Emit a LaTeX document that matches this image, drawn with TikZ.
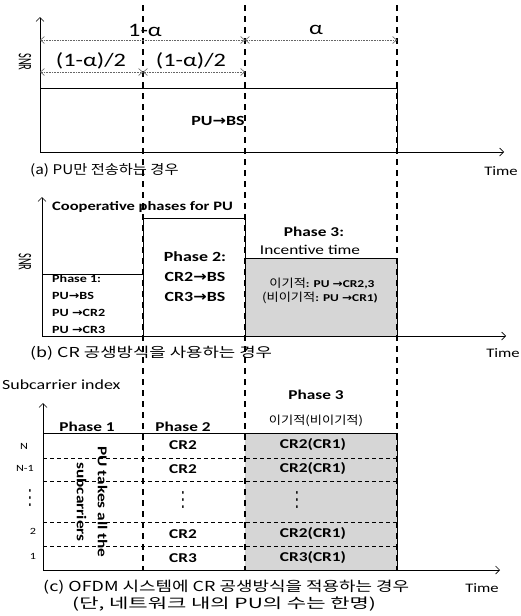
\documentclass[tikz,border=0pt]{standalone}
\usepackage{fontspec}
\usepackage{graphicx}
\setmainfont{Carlito}[FakeStretch=1.28]
\newfontfamily\kr{Noto Sans CJK KR}[FakeStretch=1.15]
\newfontfamily\krmid{Noto Sans CJK KR}[FakeStretch=1.3]
\newfontfamily\krwide{Noto Sans CJK KR}[FakeStretch=1.5]
\newfontfamily\dv{DejaVu Sans}[FakeStretch=1.15]
\newfontfamily\snrf{Carlito}[FakeStretch=0.55]
\usetikzlibrary{arrows.meta}
\newcommand{\myarr}{{\dv\bfseries →}}
\newcommand{\fsz}[1]{\fontsize{#1}{#1}\selectfont}
\newcommand{\myvdots}{\scalebox{0.8}[1.3]{\dv\mdseries\fsz{16}⋮}}
\begin{document}
\begin{tikzpicture}[x=1pt,y=-1pt,
  every node/.style={inner sep=0pt},
  axis/.style={line width=0.9pt,-{Straight Barb[length=4pt,width=8pt,line width=0.7pt]}},
  dimarrow/.style={draw=black!60,line width=0.6pt,densely dotted,{Straight Barb[length=4pt,width=7pt,line width=0.6pt]}-{Straight Barb[length=4pt,width=7pt,line width=0.6pt]}},
  guide/.style={line width=1.2pt,dash pattern=on 6pt off 5pt},
  frame/.style={line width=0.9pt},
  rowsep/.style={line width=0.7pt,dash pattern=on 4pt off 3pt},
  shaded/.style={fill=black!16},
  dimlbl/.style={font=\fsz{19}},
  pubs/.style={font=\bfseries\fsz{14}},
  coop/.style={font=\bfseries\fsz{12.9},anchor=west},
  phonetxt/.style={font=\bfseries\fsz{11},anchor=west},
  phtwotxt/.style={font=\bfseries\fsz{14}},
  phthreehead/.style={font=\bfseries\fsz{13.5}},
  inctxt/.style={font=\fsz{13.5}},
  krbox/.style={font=\kr\fsz{11.5}},
  celltxt/.style={font=\bfseries\fsz{13.5}},
  timelbl/.style={font=\fsz{13}},
  snrlbl/.style={font=\snrf\fsz{19},rotate=-90},
  captxt/.style={anchor=west},
  rowlbl/.style={font=\fsz{9.5}},
  sublbl/.style={font=\fsz{14},anchor=west},
  rottxt/.style={font=\bfseries\fontsize{13.5}{21}\selectfont,rotate=-90,align=center}
]
\useasboundingbox (0,0) rectangle (521,616);

% ---------- shaded areas ----------
\coordinate (p3a) at (245,258); \coordinate (p3b) at (397,336);
\fill[shaded] (p3a) rectangle (p3b);
\coordinate (c3a) at (245,433); \coordinate (c3b) at (397,570);
\fill[shaded] (c3a) rectangle (c3b);

% ---------- panel (c) row separators ----------
\foreach \yy/\nm in {458/r1,481/r2,522/r3,546/r4}{
  \coordinate (\nm l) at (43,\yy); \coordinate (\nm r) at (397,\yy);
  \draw[rowsep] (\nm l) -- (\nm r);
}

% ---------- vertical guides ----------
\coordinate (gAt) at (143,5); \coordinate (gAb) at (143,570);
\coordinate (gBt) at (245,5); \coordinate (gBb) at (245,570);
\coordinate (gCt) at (397,5); \coordinate (gCb) at (397,570);
\draw[guide] (gAt) -- (gAb);
\draw[guide] (gBt) -- (gBb);
\draw[guide] (gCt) -- (gCb);

% ---------- panel (a) ----------
\coordinate (aO) at (40,152); \coordinate (aY) at (40,17); \coordinate (aX) at (504,152);
\draw[axis] (aO) -- (aY);
\draw[axis] (aO) -- (aX);
\coordinate (aTL) at (40,88); \coordinate (aTR) at (397,88); \coordinate (aBR) at (397,152);
\draw[frame] (aTL) -- (aTR) -- (aBR);
\coordinate (d1) at (40,40); \coordinate (d2) at (245,40); \coordinate (d3) at (397,40);
\draw[dimarrow] (d1) -- (d2);
\draw[dimarrow] (d2) -- (d3);
\coordinate (e1) at (40,72); \coordinate (e2) at (143,72); \coordinate (e3) at (245,72);
\draw[dimarrow] (e1) -- (e2);
\draw[dimarrow] (e2) -- (e3);
\node[dimlbl] (lOneA) at (145,30) {1-α};
\node[dimlbl] (lA) at (316,30) {α};
\node[dimlbl] (lHalfA) at (91,61) {(1-α)/2};
\node[dimlbl] (lHalfB) at (191,61) {(1-α)/2};
\node[snrlbl] (snrA) at (25,62) {SNR};
\node[pubs] (pubsA) at (218,121) {PU\myarr BS};
\node[timelbl] (timeA) at (501,171) {Time};
\node[captxt,font=\kr\fsz{13.3}] (capA) at (30,170) {(a) PU만 전송하는 경우};

% ---------- panel (b) ----------
\coordinate (bO) at (42,336); \coordinate (bY) at (42,197); \coordinate (bX) at (506,336);
\draw[axis] (bO) -- (bY);
\draw[axis] (bO) -- (bX);
\coordinate (p1L) at (42,274); \coordinate (p1R) at (143,274);
\draw[frame] (p1L) -- (p1R);
\coordinate (p2a) at (143,218); \coordinate (p2b) at (245,336);
\draw[frame] (p2a) rectangle (p2b);
\draw[frame] (p3a) rectangle (p3b);
\node[coop] (coopB) at (52,207) {Cooperative phases for PU};
\node[snrlbl] (snrB) at (25,262) {SNR};
\node[phonetxt] (ph1a) at (52,279) {Phase 1:};
\node[phonetxt] (ph1b) at (52,296) {PU\myarr BS};
\node[phonetxt] (ph1c) at (52,313) {PU \myarr CR2};
\node[phonetxt] (ph1d) at (52,330) {PU \myarr CR3};
\node[phtwotxt] (ph2a) at (195,257) {Phase 2:};
\node[phtwotxt] (ph2b) at (195,277) {CR2\myarr BS};
\node[phtwotxt] (ph2c) at (195,297) {CR3\myarr BS};
\node[phthreehead] (ph3a) at (314,232) {Phase 3:};
\node[inctxt] (ph3b) at (310,250) {Incentive time};
\node[krbox] (ph3c) at (322,283) {이기적{\rmfamily\bfseries\fsz{10.5}: PU \myarr CR2,3}};
\node[krbox] (ph3d) at (320,298) {(비이기적{\rmfamily\bfseries\fsz{10.5}: PU \myarr CR1)}};
\node[timelbl] (timeB) at (503,353) {Time};
\node[captxt,font=\krmid\fsz{13.7}] (capB) at (30,353) {(b) CR 공생방식을 사용하는 경우};

% ---------- panel (c) ----------
\node[sublbl] (subc) at (2,385) {Subcarrier index};
\coordinate (cO) at (43,570); \coordinate (cY) at (43,403); \coordinate (cX) at (500,570);
\draw[axis] (cO) -- (cY);
\draw[axis] (cO) -- (cX);
\coordinate (cTL) at (43,433); \coordinate (cTR) at (397,433);
\draw[frame] (cTL) -- (cTR) -- (gCb);
\node[celltxt] (hc1) at (87,427) {Phase 1};
\node[celltxt] (hc2) at (183,427) {Phase 2};
\node[celltxt] (hc3) at (316,395) {Phase 3};
\node[krbox] (hc3b) at (316,421) {이기적(비이기적)};
\node[rottxt] (pu) at (92,502) {PU takes all the\\subcarriers};
\node[rowlbl] (rN) at (24,446) {N};
\node[rowlbl] (rN1) at (25,468) {N-1};
\node[rowlbl] (rD) at (30,498) {\myvdots};
\node[rowlbl] (r2) at (33,531) {2};
\node[rowlbl] (r1) at (33,556) {1};
\node[celltxt] (c2a) at (183,445) {CR2};
\node[celltxt] (c2b) at (183,469) {CR2};
\node[celltxt] (c2c) at (183,500) {\myvdots};
\node[celltxt] (c2d) at (183,534) {CR2};
\node[celltxt] (c2e) at (183,558) {CR3};
\node[celltxt] (c3a) at (313,445) {CR2(CR1)};
\node[celltxt] (c3b) at (313,469) {CR2(CR1)};
\node[celltxt] (c3c) at (297,500) {\myvdots};
\node[celltxt] (c3d) at (313,534) {CR2(CR1)};
\node[celltxt] (c3e) at (313,558) {CR3(CR1)};
\node[timelbl] (timeC) at (482,588) {Time};
\node[captxt,font=\krmid\fsz{13.8}] (capC1) at (43,587) {(c) OFDM 시스템에 CR 공생방식을 적용하는 경우};
\node[captxt,font=\krwide\fsz{14}] (capC2) at (72,604) {(단, 네트워크 내의 PU의 수는 한명)};
\end{tikzpicture}
\end{document}
